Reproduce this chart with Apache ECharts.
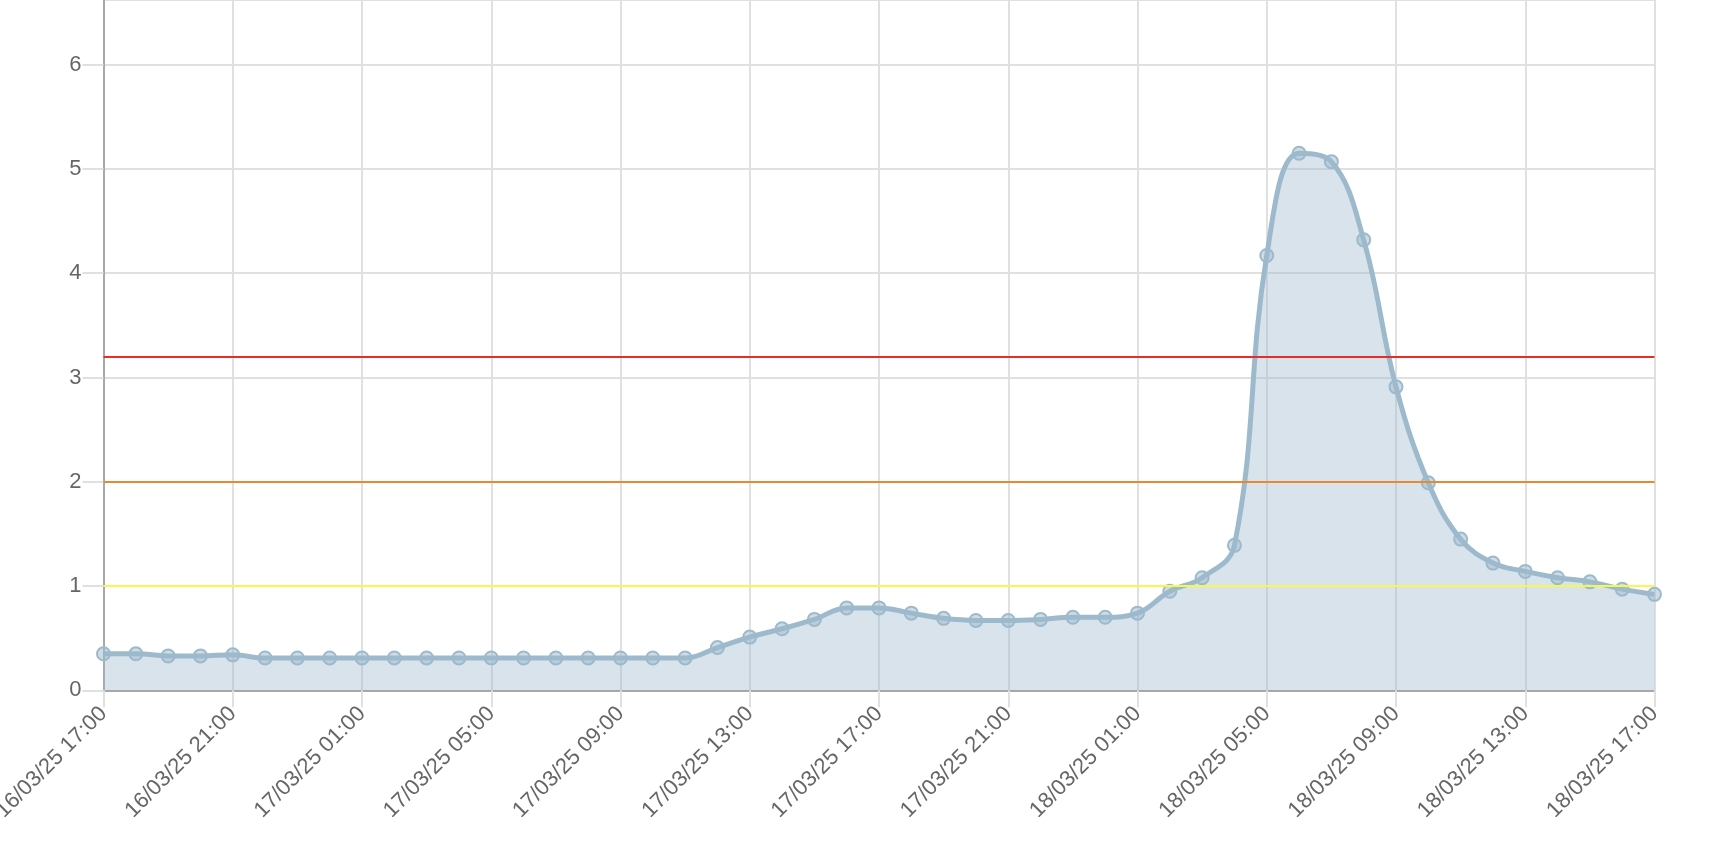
<!DOCTYPE html>
<html>
<head>
<meta charset="utf-8">
<script src="https://cdn.jsdelivr.net/npm/echarts@6/dist/echarts.min.js"></script>
<style>
html,body{margin:0;padding:0;background:#fff;}
#chart{width:1710px;height:868px;}
</style>
</head>
<body>
<div id="chart"></div>
<script>
// Hourly timestamps, 16/03/25 17:00 .. 18/03/25 17:00
var categories = [
  "16/03/25 17:00","16/03/25 18:00","16/03/25 19:00","16/03/25 20:00","16/03/25 21:00","16/03/25 22:00","16/03/25 23:00",
  "17/03/25 00:00","17/03/25 01:00","17/03/25 02:00","17/03/25 03:00","17/03/25 04:00","17/03/25 05:00","17/03/25 06:00",
  "17/03/25 07:00","17/03/25 08:00","17/03/25 09:00","17/03/25 10:00","17/03/25 11:00","17/03/25 12:00","17/03/25 13:00",
  "17/03/25 14:00","17/03/25 15:00","17/03/25 16:00","17/03/25 17:00","17/03/25 18:00","17/03/25 19:00","17/03/25 20:00",
  "17/03/25 21:00","17/03/25 22:00","17/03/25 23:00","18/03/25 00:00","18/03/25 01:00","18/03/25 02:00","18/03/25 03:00",
  "18/03/25 04:00","18/03/25 05:00","18/03/25 06:00","18/03/25 07:00","18/03/25 08:00","18/03/25 09:00","18/03/25 10:00",
  "18/03/25 11:00","18/03/25 12:00","18/03/25 13:00","18/03/25 14:00","18/03/25 15:00","18/03/25 16:00","18/03/25 17:00"
];
var values = [
  0.35,0.35,0.33,0.33,0.34,0.31,0.31,
  0.31,0.31,0.31,0.31,0.31,0.31,0.31,
  0.31,0.31,0.31,0.31,0.31,0.41,0.51,
  0.59,0.68,0.79,0.79,0.74,0.69,0.67,
  0.67,0.68,0.70,0.70,0.74,0.95,1.08,
  1.39,4.17,5.15,5.07,4.32,2.91,1.99,
  1.45,1.22,1.14,1.08,1.04,0.97,0.92
];
var thresholdValues = [3.2, 2, 1];
var thresholdColors = ["#e52e2a", "#e8892f", "#f7f74c"];
var yTicks = [0,1,2,3,4,5,6];

var chart = echarts.init(document.getElementById('chart'), null, {renderer:'canvas'});
var labelFont = {color:'#666', fontSize:22, fontFamily:'Liberation Sans, Arial, sans-serif'};

var option = {
  animation:false,
  grid:{left:103.5, right:55.5, top:0, bottom:177.7, containLabel:false, outerBoundsMode:'none'},
  xAxis:{
    type:'category',
    data:categories,
    boundaryGap:false,
    axisLine:{show:true, lineStyle:{color:'#a8a8a8', width:2}},
    axisTick:{show:true, interval:3, length:17, lineStyle:{color:'#e0e0e0', width:2}},
    axisLabel:Object.assign({interval:3, rotate:45, margin:20}, labelFont),
    splitLine:{show:true, interval:3, lineStyle:{color:'#e0e0e0', width:2}}
  },
  yAxis:{
    type:'value',
    min:0, max:6.62, interval:1,
    axisLine:{show:true, lineStyle:{color:'#a8a8a8', width:2}},
    axisTick:{show:true, length:21, lineStyle:{color:'#e0e0e0', width:2}},
    axisLabel:Object.assign({margin:22, showMaxLabel:false,
      formatter:function(v){ return yTicks.indexOf(v) >= 0 ? String(v) : ''; }}, labelFont),
    splitLine:{show:true, lineStyle:{color:'#e0e0e0', width:2}}
  },
  series:[
    {
      type:'line', data:[], z:1, silent:true,
      markLine:{
        silent:true, symbol:['none','none'], animation:false,
        label:{show:false},
        data:thresholdValues.map(function(v,i){
          return {yAxis:v, lineStyle:{color:thresholdColors[i], width:2, type:'solid'}};
        })
      }
    },
    {
      type:'line', data:values, z:3,
      smooth:0.4,
      symbol:'circle', symbolSize:13, showSymbol:true,
      lineStyle:{color:'#9dbacc', width:5},
      itemStyle:{color:'rgba(157,186,204,0.5)', borderColor:'#9dbacc', borderWidth:2},
      areaStyle:{color:'rgba(157,186,204,0.4)', opacity:1}
    }
  ]
};
chart.setOption(option);
</script>
</body>
</html>
